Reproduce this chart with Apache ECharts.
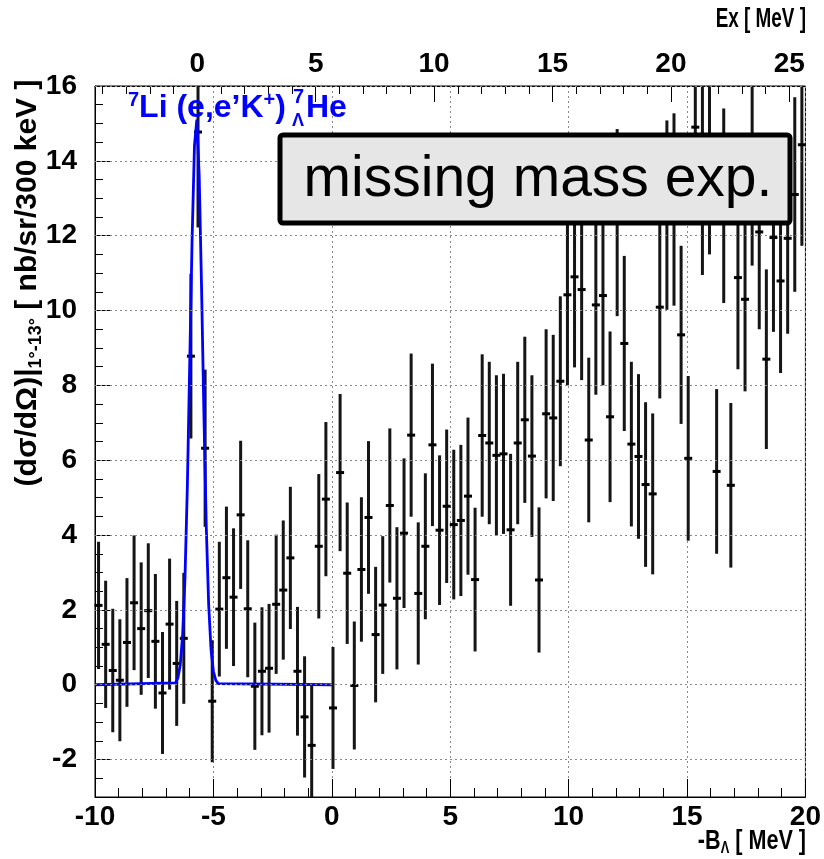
<!DOCTYPE html>
<html>
<head>
<meta charset="utf-8">
<script src="https://cdn.jsdelivr.net/npm/echarts@6/dist/echarts.min.js"></script>
<style>
  html, body { margin: 0; padding: 0; background: #fff; }
  #chart { width: 824px; height: 859px; }
</style>
</head>
<body>
<div id="chart"></div>
<script>
// -B_Lambda bin centres (MeV), 300 keV bins
const binCenters = [
  -9.85, -9.55, -9.25, -8.95, -8.65, -8.35, -8.05, -7.75, -7.45, -7.15,
  -6.85, -6.55, -6.25, -5.95, -5.65, -5.35, -5.05, -4.75, -4.45, -4.15,
  -3.85, -3.55, -3.25, -2.95, -2.65, -2.35, -2.05, -1.75, -1.45, -1.15,
  -0.85, -0.55, -0.25, 0.05, 0.35, 0.65, 0.95, 1.25, 1.55, 1.85,
  2.15, 2.45, 2.75, 3.05, 3.35, 3.65, 3.95, 4.25, 4.55, 4.85,
  5.15, 5.45, 5.75, 6.05, 6.35, 6.65, 6.95, 7.25, 7.55, 7.85,
  8.15, 8.45, 8.75, 9.05, 9.35, 9.65, 9.95, 10.25, 10.55, 10.85,
  11.15, 11.45, 11.75, 12.05, 12.35, 12.65, 12.95, 13.25, 13.55, 13.85,
  14.15, 14.45, 14.75, 15.05, 15.35, 15.65, 15.95, 16.25, 16.55, 16.85,
  17.15, 17.45, 17.75, 18.05, 18.35, 18.65, 18.95, 19.25, 19.55, 19.85
];
// cross section (nb/sr/300 keV)
const crossSection = [
  2.12, 1.08, 0.38, 0.12, 1.13, 2.19, 1.50, 1.98, 1.16, -0.22,
  1.62, 0.57, 1.24, 8.78, 14.77, 6.32, -0.44, 2.02, 2.86, 2.34,
  4.54, 2.03, -0.04, 0.36, 0.44, 2.15, 2.53, 3.39, 0.36, -0.86,
  -1.62, 3.70, 4.96, -0.62, 5.67, 2.98, -0.02, 3.08, 4.47, 1.34,
  2.13, 4.79, 2.31, 4.05, 6.67, 2.44, 3.70, 6.41, 4.13, 4.77,
  4.28, 4.39, 5.04, 2.81, 6.66, 6.46, 6.13, 6.17, 4.14, 6.46,
  7.08, 6.11, 2.80, 7.24, 7.13, 8.11, 10.42, 10.90, 10.56, 6.54,
  10.15, 10.40, 7.16, 12.35, 9.12, 6.43, 6.10, 5.35, 5.10, 10.09,
  12.55, 12.70, 9.35, 6.05, 14.90, 13.55, 14.10, 5.70, 12.80, 5.33,
  10.88, 10.30, 13.80, 12.10, 8.70, 11.95, 10.79, 11.93, 13.10, 14.43
];
const crossSectionErr = [
  1.70, 1.70, 1.65, 1.63, 1.72, 1.80, 1.77, 1.80, 1.80, 1.63,
  1.75, 1.67, 1.75, 2.20, 2.55, 2.10, 1.63, 1.80, 1.90, 1.84,
  1.98, 1.83, 1.70, 1.71, 1.72, 1.86, 1.86, 1.90, 1.72, 1.62,
  1.60, 1.93, 2.06, 1.63, 2.10, 1.89, 1.71, 1.93, 2.04, 1.81,
  1.84, 2.06, 1.90, 2.00, 2.18, 1.90, 1.95, 2.17, 2.00, 2.05,
  2.00, 2.02, 2.10, 1.92, 2.17, 2.17, 2.14, 2.14, 2.03, 2.17,
  2.22, 2.16, 1.94, 2.26, 2.22, 2.27, 2.42, 2.42, 2.42, 2.20,
  2.40, 2.40, 2.28, 2.50, 2.34, 2.20, 2.20, 2.20, 2.15, 2.44,
  2.53, 2.57, 2.38, 2.20, 2.60, 2.60, 2.60, 2.20, 2.60, 2.20,
  2.45, 2.46, 2.60, 2.60, 2.40, 2.52, 2.46, 2.55, 2.60, 2.70
];
// fitted peak (blue line)
const fitX = [-10, -6.6, -6.5, -6.4, -6.3, -6.2, -6.1, -6.0, -5.9, -5.8, -5.7,
              -5.6, -5.5, -5.4, -5.3, -5.2, -5.1, -5.0, -4.9, -4.8, 0];
const fitY = [0, 0.05, 0.18, 0.53, 1.33, 2.85, 5.3, 8.6, 11.9, 14.4, 15.1,
              13.6, 10.6, 7.2, 4.2, 2.14, 0.94, 0.36, 0.12, 0.03, 0];

// axes
const xMin = -10, xMax = 20;
const yMin = -3, yMax = 16;
const yMajor = [-2, 0, 2, 4, 6, 8, 10, 12, 14, 16];
const exOffset = 5.68;            // Ex = -B_Lambda + exOffset
const exMajor = [0, 5, 10, 15, 20, 25];
const exMinor = [-4, -3, -2, -1, 0, 1, 2, 3, 4, 5, 6, 7, 8, 9, 10, 11, 12, 13, 14,
                 15, 16, 17, 18, 19, 20, 21, 22, 23, 24, 25];

const FONT = '"Liberation Sans", Arial, Helvetica, sans-serif';

const points = binCenters.map((x, i) => [x, crossSection[i], crossSectionErr[i]]);
const fitLine = fitX.map((x, i) => [x, fitY[i]]);

const chart = echarts.init(document.getElementById('chart'));

function renderErrorBar(params, api) {
  const cs = params.coordSys;
  const x = api.value(0), y = api.value(1), e = api.value(2);
  const hi = api.coord([x, y + e]);
  const lo = api.coord([x, y - e]);
  const mid = api.coord([x, y]);
  const y1 = Math.max(hi[1], cs.y);
  const y2 = Math.min(lo[1], cs.y + cs.height);
  const children = [];
  if (y2 > y1) {
    children.push({
      type: 'line',
      shape: { x1: hi[0], y1: y1, x2: lo[0], y2: y2 },
      style: { stroke: '#151515', lineWidth: 3 }
    });
  }
  if (mid[1] >= cs.y && mid[1] <= cs.y + cs.height) {
    children.push({
      type: 'line',
      shape: { x1: mid[0] - 4, y1: mid[1], x2: mid[0] + 4, y2: mid[1] },
      style: { stroke: '#000', lineWidth: 3 }
    });
  }
  return { type: 'group', children: children };
}

const labelStyle = { color: '#000', fontFamily: FONT, fontWeight: 'bold', fontSize: 28 };

const option = {
  animation: false,
  backgroundColor: '#fff',
  grid: { left: 95, right: 17, top: 86, bottom: 62, show: true, borderColor: '#000', borderWidth: 1 },
  xAxis: [
    {
      type: 'value', position: 'bottom', min: xMin, max: xMax, interval: 5,
      axisLine: { show: true, onZero: false, lineStyle: { color: '#000', width: 1 } },
      axisTick: { inside: true, length: 18, lineStyle: { color: '#000' } },
      minorTick: { show: true, splitNumber: 5, length: 9, lineStyle: { color: '#000' } },
      axisLabel: Object.assign({ margin: 6 }, labelStyle),
      splitLine: { show: true, lineStyle: { color: '#888', type: [2, 3], width: 1 } }
    },
    {
      type: 'value', position: 'top', min: xMin + exOffset, max: xMax + exOffset,
      axisLine: { show: true, onZero: false, lineStyle: { color: '#000', width: 1 } },
      axisTick: { inside: true, length: 16, customValues: exMajor, lineStyle: { color: '#000' } },
      axisLabel: Object.assign({ margin: 8, customValues: exMajor }, labelStyle),
      splitLine: { show: false }
    },
    {
      type: 'value', position: 'top', min: xMin + exOffset, max: xMax + exOffset,
      axisLine: { show: false, onZero: false },
      axisTick: { inside: true, length: 8, customValues: exMinor, lineStyle: { color: '#000' } },
      axisLabel: { show: false },
      splitLine: { show: false }
    }
  ],
  yAxis: [
    {
      type: 'value', position: 'left', min: yMin, max: yMax, interval: 0.5,
      axisLine: { show: true, onZero: false, lineStyle: { color: '#000', width: 1 } },
      axisTick: { inside: true, length: 8, lineStyle: { color: '#000' } },
      axisLabel: { show: false },
      splitLine: { show: false }
    },
    {
      type: 'value', position: 'left', min: yMin, max: yMax,
      axisLine: { show: false, onZero: false },
      axisTick: { inside: true, length: 16, customValues: yMajor, lineStyle: { color: '#000' } },
      axisLabel: Object.assign({ margin: 18, customValues: yMajor }, labelStyle),
      splitLine: { show: false }
    }
  ],
  series: [
    {
      // horizontal dotted grid
      type: 'line', data: [], xAxisIndex: 0, yAxisIndex: 0, silent: true,
      markLine: {
        silent: true, symbol: 'none', label: { show: false },
        lineStyle: { color: '#888', type: [2, 3], width: 1 },
        data: yMajor.map(v => ({ yAxis: v }))
      }
    },
    {
      type: 'custom', xAxisIndex: 0, yAxisIndex: 0,
      renderItem: renderErrorBar,
      encode: { x: 0, y: 1 },
      data: points, z: 3
    },
    {
      type: 'line', xAxisIndex: 0, yAxisIndex: 0, data: fitLine,
      showSymbol: false, smooth: false, z: 4,
      lineStyle: { color: '#0000ff', width: 2.8 }
    }
  ],
  graphic: [
    {
      type: 'text', z: 10, x: 28, y: 283, rotation: Math.PI / 2,
      style: {
        text: '{b|(dσ/dΩ)|}{s|1°-13°}{b| [ nb/sr/300 keV ]}',
        align: 'center', verticalAlign: 'middle',
        rich: {
          b: { fontFamily: FONT, fontWeight: 'bold', fontSize: 30, fill: '#000', lineHeight: 34 },
          s: { fontFamily: FONT, fontWeight: 'bold', fontSize: 18, fill: '#000', verticalAlign: 'bottom', lineHeight: 34, padding: [12, 0, 0, 0] }
        }
      }
    },
    {
      type: 'text', z: 10, x: 806, y: 842, scaleX: 0.8,
      style: {
        text: '{b|-B}{s|Λ}{b| [ MeV ]}',
        align: 'right', verticalAlign: 'middle',
        rich: {
          b: { fontFamily: FONT, fontWeight: 'bold', fontSize: 27, fill: '#000', lineHeight: 30 },
          s: { fontFamily: FONT, fontWeight: 'bold', fontSize: 16, fill: '#000', verticalAlign: 'bottom', lineHeight: 30, padding: [12, 0, 0, 0] }
        }
      }
    },
    {
      type: 'text', z: 10, x: 806, y: 20, scaleX: 0.7,
      style: {
        text: 'Ex [ MeV ]', align: 'right', verticalAlign: 'middle',
        fontFamily: FONT, fontWeight: 'bold', fontSize: 27, fill: '#000'
      }
    },
    {
      type: 'text', z: 10, x: 128, y: 108,
      style: {
        text: '{p|7}{m|Li (e,e\u2019K}{p|+}{m|)}',
        align: 'left', verticalAlign: 'middle',
        rich: {
          m: { fontFamily: FONT, fontWeight: 'bold', fontSize: 32, fill: '#0000ff', lineHeight: 36 },
          p: { fontFamily: FONT, fontWeight: 'bold', fontSize: 20, fill: '#0000ff', verticalAlign: 'top', lineHeight: 36 }
        }
      }
    },
    {
      type: 'text', z: 10, x: 293, y: 97,
      style: { text: '7', align: 'left', verticalAlign: 'middle', fontFamily: FONT, fontWeight: 'bold', fontSize: 20, fill: '#0000ff' }
    },
    {
      type: 'text', z: 10, x: 292, y: 121,
      style: { text: 'Λ', align: 'left', verticalAlign: 'middle', fontFamily: FONT, fontWeight: 'bold', fontSize: 18, fill: '#0000ff' }
    },
    {
      type: 'text', z: 10, x: 306, y: 108,
      style: { text: 'He', align: 'left', verticalAlign: 'middle', fontFamily: FONT, fontWeight: 'bold', fontSize: 32, fill: '#0000ff' }
    },
    {
      type: 'rect', z: 20,
      shape: { x: 280, y: 135, width: 510, height: 88, r: 3 },
      style: { fill: '#e6e6e6', stroke: '#000', lineWidth: 5 }
    },
    {
      type: 'text', z: 21, x: 538, y: 180,
      style: {
        text: 'missing mass exp.', align: 'center', verticalAlign: 'middle',
        fontFamily: FONT, fontSize: 57, fill: '#000'
      }
    }
  ]
};

chart.setOption(option);
</script>
</body>
</html>
